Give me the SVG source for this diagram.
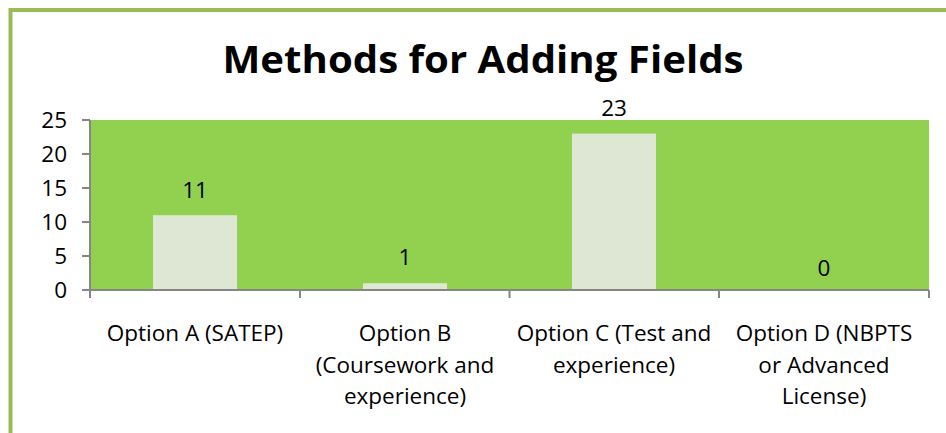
<svg xmlns="http://www.w3.org/2000/svg" width="946" height="433" viewBox="0 0 946 433">
<style>
.t{font-family:"Open Sans","Liberation Sans",Arial,sans-serif;font-size:22.5px;fill:#000}
.ax{stroke:#868686;stroke-width:2;fill:none}
.bar{fill:#DDE7D3}
</style>
<rect width="946" height="433" fill="#fff"/>
<g id="frame"><path d="M10.5,433 V10 H946" fill="none" stroke="#9BBB59" stroke-width="4"/></g>
<g id="title"><text x="483" y="73" text-anchor="middle" textLength="521" lengthAdjust="spacingAndGlyphs" style="font-family:'Open Sans','Liberation Sans',Arial,sans-serif;font-weight:bold;font-size:37.5px">Methods for Adding Fields</text></g>
<g id="plot"><rect x="90" y="120" width="839" height="170" fill="#92D050"/></g>
<g id="bars">
<rect class="bar" x="153" y="215.2" width="84" height="74.8"/>
<rect class="bar" x="363" y="283.2" width="84" height="6.8"/>
<rect class="bar" x="572" y="133.6" width="84" height="156.4"/>
</g>
<g id="axes">
<path class="ax" d="M90,120 V290 H929"/>
<path class="ax" d="M82,120 H90 M82,154 H90 M82,188 H90 M82,222 H90 M82,256 H90 M82,290 H90"/>
<path class="ax" d="M90,290 V298 M300,290 V298 M509.5,290 V298 M719,290 V298 M929,290 V298"/>
</g>
<g id="ylabels">
<text class="t" x="67" y="128" text-anchor="end">25</text>
<text class="t" x="67" y="162" text-anchor="end">20</text>
<text class="t" x="67" y="196" text-anchor="end">15</text>
<text class="t" x="67" y="230" text-anchor="end">10</text>
<text class="t" x="67" y="264" text-anchor="end">5</text>
<text class="t" x="67" y="298" text-anchor="end">0</text>
</g>
<g id="values">
<text class="t" x="195" y="198" text-anchor="middle">11</text>
<text class="t" x="405" y="265" text-anchor="middle">1</text>
<text class="t" x="614" y="116" text-anchor="middle">23</text>
<text class="t" x="824" y="276" text-anchor="middle">0</text>
</g>
<g id="xlabels">
<text class="t" x="195" y="341" text-anchor="middle">Option A (SATEP)</text>
<text class="t" x="405" y="341" text-anchor="middle">Option B</text>
<text class="t" x="405" y="372.5" text-anchor="middle">(Coursework and</text>
<text class="t" x="405" y="404" text-anchor="middle">experience)</text>
<text class="t" x="614" y="341" text-anchor="middle">Option C (Test and</text>
<text class="t" x="614" y="372.5" text-anchor="middle">experience)</text>
<text class="t" x="824" y="341" text-anchor="middle">Option D (NBPTS</text>
<text class="t" x="824" y="372.5" text-anchor="middle">or Advanced</text>
<text class="t" x="824" y="404" text-anchor="middle">License)</text>
</g>
</svg>
